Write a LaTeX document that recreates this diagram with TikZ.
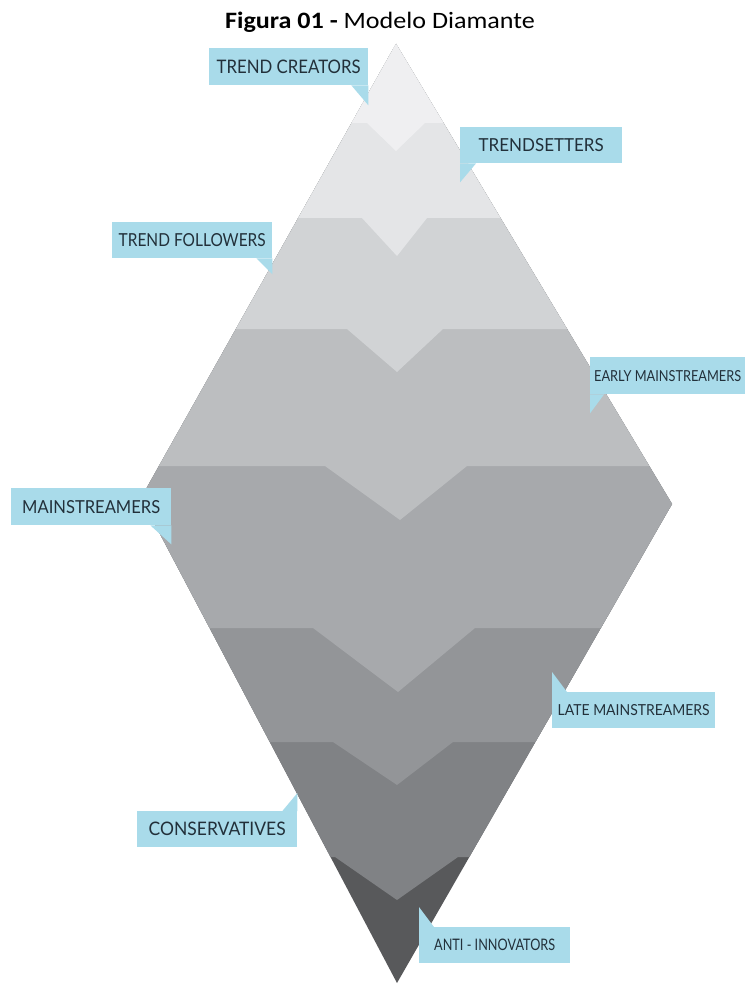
\documentclass[tikz,border=0pt]{standalone}
\usepackage{fontspec}
\setmainfont{Carlito}
\newfontfamily\labelfont{Lato}
\usepackage{graphicx}
\definecolor{cA}{HTML}{EFEFF1}
\definecolor{cB}{HTML}{E4E5E7}
\definecolor{cC}{HTML}{D1D3D5}
\definecolor{cD}{HTML}{BCBEC0}
\definecolor{cE}{HTML}{A7A9AC}
\definecolor{cF}{HTML}{939598}
\definecolor{cG}{HTML}{808285}
\definecolor{cH}{HTML}{58595B}
\definecolor{lblue}{HTML}{A9DBEA}
\definecolor{ltext}{HTML}{22303A}
\newcommand{\lbl}[3]{\resizebox{#1pt}{#2pt}{\labelfont #3}}
\tikzset{
  lbox/.style={fill=lblue, text=ltext, inner sep=0pt, anchor=north west},
  tail/.style={fill=lblue}
}
\begin{document}
\begin{tikzpicture}[x=1pt,y=-1pt]
\useasboundingbox (0,0) rectangle (745,984);
\fill[white] (0,0) rectangle (745,984);

% title
\node[font=\fontsize{23.5}{27}\selectfont] (title) at (380,22) {\scalebox{1.11}[1]{\textbf{Figura 01 -} Modelo Diamante}};

% diamond bands
\begin{scope}
\clip (396,44) -- (141,498) -- (397,983) -- (672,504) -- cycle;
\fill[cH] (0,0) rectangle (745,984);
\fill[cG] (0,0) -- (0,857) -- (335,857) -- (397,900) -- (458,857) -- (745,857) -- (745,0) -- cycle;
\fill[cF] (0,0) -- (0,742) -- (333,742) -- (397,785) -- (453,742) -- (745,742) -- (745,0) -- cycle;
\fill[cE] (0,0) -- (0,628) -- (313,628) -- (398,692) -- (475,628) -- (745,628) -- (745,0) -- cycle;
\fill[cD] (0,0) -- (0,466) -- (325,466) -- (400,520) -- (467,466) -- (745,466) -- (745,0) -- cycle;
\fill[cC] (0,0) -- (0,329) -- (347,329) -- (397,372) -- (443,329) -- (745,329) -- (745,0) -- cycle;
\fill[cB] (0,0) -- (0,218) -- (362,218) -- (397,256) -- (427,218) -- (745,218) -- (745,0) -- cycle;
\fill[cA] (0,0) -- (0,123) -- (367,123) -- (396,151) -- (425,123) -- (745,123) -- (745,0) -- cycle;
\end{scope}

% labels
\node[lbox, minimum width=159pt, minimum height=37pt] (tc) at (209,48) {\lbl{144}{13.5}{TREND CREATORS}};
\fill[tail] (tc.south east) -- ++(0,20) -- ++(-17,-20) -- cycle;

\node[lbox, minimum width=162pt, minimum height=36pt] (ts) at (460,127) {\lbl{125}{13}{TRENDSETTERS}};
\fill[tail] (ts.south west) -- ++(0,19) -- ++(16,-19) -- cycle;

\node[lbox, minimum width=160pt, minimum height=36pt] (tf) at (112,222) {\lbl{147}{13}{TREND FOLLOWERS}};
\fill[tail] (tf.south east) -- ++(0,16) -- ++(-16,-16) -- cycle;

\node[lbox, minimum width=155pt, minimum height=37pt] (em) at (590,357) {\lbl{147}{11}{EARLY MAINSTREAMERS}};
\fill[tail] (em.south west) -- ++(0,19) -- ++(14,-19) -- cycle;

\node[lbox, minimum width=160pt, minimum height=37pt] (ms) at (11,488) {\lbl{138}{13}{MAINSTREAMERS}};
\fill[tail] (ms.south east) -- ++(0,19) -- ++(-21,-19) -- cycle;

\node[lbox, minimum width=163pt, minimum height=36pt] (lm) at (552,692) {\lbl{152}{11}{LATE MAINSTREAMERS}};
\fill[tail] (lm.north west) -- ++(0,-20) -- ++(15,20) -- cycle;

\node[lbox, minimum width=160pt, minimum height=36pt] (cv) at (137,811) {\lbl{137}{13.5}{CONSERVATIVES}};
\fill[tail] (cv.north east) -- ++(0,-18) -- ++(-15,18) -- cycle;

\node[lbox, minimum width=151pt, minimum height=36pt] (ai) at (419,927) {\lbl{121}{11.5}{ANTI - INNOVATORS}};
\fill[tail] (ai.north west) -- ++(0,-20) -- ++(15,20) -- cycle;
\end{tikzpicture}
\end{document}
